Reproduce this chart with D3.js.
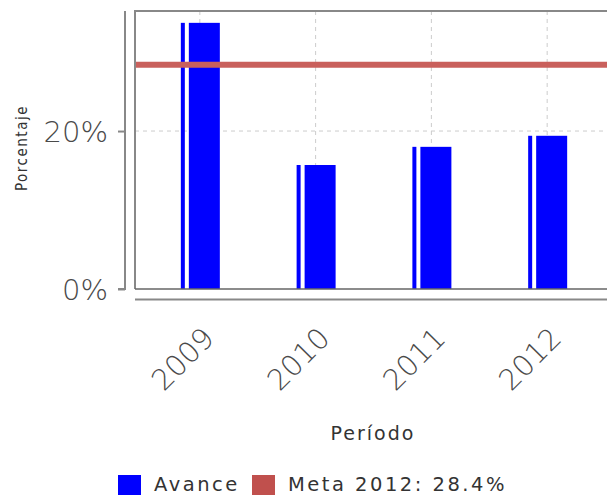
<!DOCTYPE html>
<html>
<head>
<meta charset="utf-8">
<script src="https://cdn.jsdelivr.net/npm/d3@7"></script>
<style>
  body { margin: 0; background: #fff; }
  svg { display: block; font-family: "DejaVu Sans", sans-serif; }
</style>
</head>
<body>
<div id="chart"></div>
<script>
const years = ["2009", "2010", "2011", "2012"];
const avance = [33.7, 15.7, 18.0, 19.4];
const meta = 28.4;
const yTicks = [0, 20];
const seriesNames = ["Avance", "Meta 2012: 28.4%"];

const width = 607;
const height = 497;
const plot = { left: 135, top: 11, right: 612, bottom: 289 };

const x = d3.scalePoint().domain(years).range([plot.left, plot.right]).padding(0.56);
const y = d3.scaleLinear().domain([0, 35.2]).range([plot.bottom, plot.top]);

const svg = d3.select("#chart").append("svg")
  .attr("width", width)
  .attr("height", height);

// grid
const grid = svg.append("g").attr("stroke", "#ccc").attr("stroke-dasharray", "4,4");
grid.selectAll(".gx").data(years).join("line")
  .attr("x1", (d) => x(d)).attr("x2", (d) => x(d))
  .attr("y1", plot.top).attr("y2", plot.bottom);
grid.selectAll(".gy").data(yTicks.filter((d) => d > 0)).join("line")
  .attr("x1", plot.left).attr("x2", width)
  .attr("y1", (d) => y(d)).attr("y2", (d) => y(d));

// bars (thin sliver + main column)
const bars = svg.append("g").attr("fill", "#0000ff");
bars.selectAll(".thin").data(avance).join("rect")
  .attr("x", (d, i) => x(years[i]) - 19)
  .attr("width", 4)
  .attr("y", (d) => y(d))
  .attr("height", (d) => y(0) - y(d));
bars.selectAll(".main").data(avance).join("rect")
  .attr("x", (d, i) => x(years[i]) - 11)
  .attr("width", 31)
  .attr("y", (d) => y(d))
  .attr("height", (d) => y(0) - y(d));

// meta line
svg.append("line")
  .attr("x1", plot.left).attr("x2", width)
  .attr("y1", y(meta)).attr("y2", y(meta))
  .attr("stroke", "#c9605c")
  .attr("stroke-width", 6);

// plot frame
svg.append("path")
  .attr("d", `M${plot.left},${plot.bottom}V${plot.top}H${width}`)
  .attr("fill", "none")
  .attr("stroke", "#888")
  .attr("stroke-width", 2);
svg.append("line")
  .attr("x1", plot.left).attr("x2", width)
  .attr("y1", plot.bottom).attr("y2", plot.bottom)
  .attr("stroke", "#666")
  .attr("stroke-width", 1.5);

// y axis
const gY = svg.append("g")
  .attr("transform", "translate(125,0)")
  .call(d3.axisLeft(y).tickValues(yTicks).tickSize(7).tickPadding(10).tickFormat((d) => d + "%"))
  .attr("font-family", null)
  .attr("font-size", null);
gY.select(".domain")
  .attr("d", `M-7,${plot.bottom}H0V${plot.top}`)
  .attr("stroke", "#888").attr("stroke-width", 2);
gY.selectAll(".tick line").attr("stroke", "#888").attr("stroke-width", 2);
gY.selectAll(".tick text")
  .attr("fill", "#4a4a4a")
  .attr("font-size", 29)
  .attr("font-weight", 300)
  .attr("dy", "0.36em");

// x axis
svg.append("line")
  .attr("x1", plot.left).attr("x2", width)
  .attr("y1", 299.5).attr("y2", 299.5)
  .attr("stroke", "#888")
  .attr("stroke-width", 2);
svg.append("g").selectAll("text").data(years).join("text")
  .attr("transform", (d) => `translate(${x(d) + 16},340) rotate(-45)`)
  .attr("text-anchor", "end")
  .attr("fill", "#4a4a4a")
  .attr("font-size", 29)
  .attr("font-weight", 300)
  .text((d) => d);

// axis titles
svg.append("text")
  .attr("transform", "translate(27,148) rotate(-90)")
  .attr("text-anchor", "middle")
  .attr("font-family", "DejaVu Sans Condensed, DejaVu Sans")
  .attr("font-size", 15)
  .attr("letter-spacing", 1.5)
  .attr("fill", "#333")
  .text("Porcentaje");
svg.append("text")
  .attr("x", 373).attr("y", 440)
  .attr("text-anchor", "middle")
  .attr("font-size", 19)
  .attr("letter-spacing", 2)
  .attr("fill", "#333")
  .text("Período");

// legend
const legendColors = ["#0000ff", "#c0504d"];
const legendX = [118, 252];
const legend = svg.append("g").selectAll("g").data(seriesNames).join("g")
  .attr("transform", (d, i) => `translate(${legendX[i]},475)`);
legend.append("rect")
  .attr("width", 23).attr("height", 20)
  .attr("fill", (d, i) => legendColors[i]);
legend.append("text")
  .attr("x", 36).attr("y", 16)
  .attr("font-size", 19.5)
  .attr("letter-spacing", 2.5)
  .attr("fill", "#333")
  .text((d) => d);
</script>
</body>
</html>
